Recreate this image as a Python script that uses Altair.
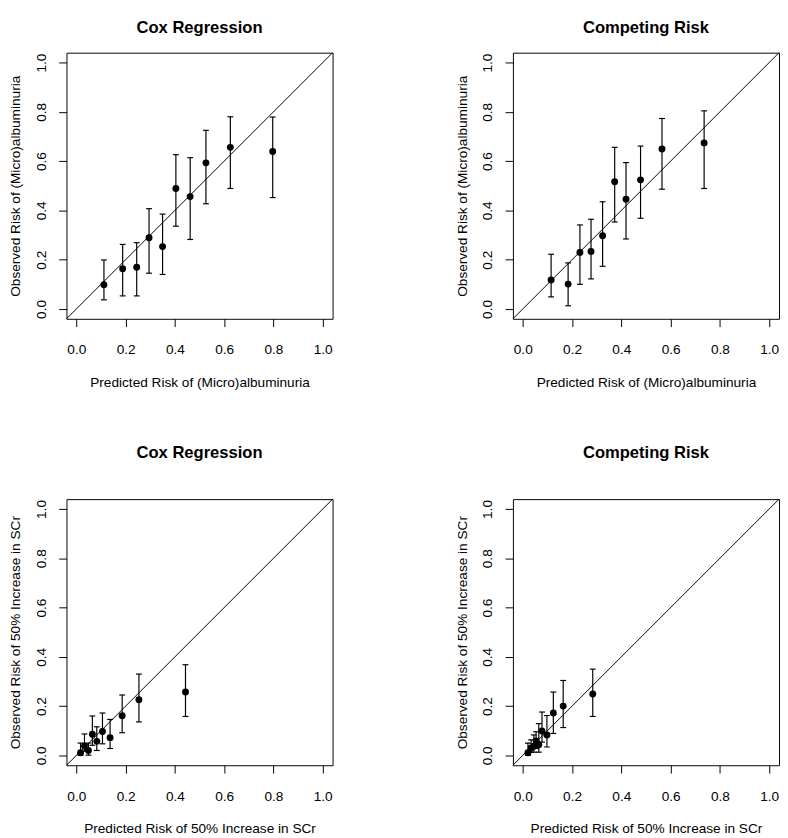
import altair as alt
import pandas as pd

FONT = "Liberation Sans"
DOMAIN = [-0.04, 1.04]
TICKS = [0.0, 0.2, 0.4, 0.6, 0.8, 1.0]

# Panel 1: Cox Regression, (Micro)albuminuria
p1_pred = [0.112, 0.188, 0.245, 0.295, 0.350, 0.404, 0.462, 0.526, 0.625, 0.797]
p1_obs = [0.098, 0.163, 0.169, 0.289, 0.253, 0.489, 0.456, 0.593, 0.656, 0.639]
p1_lo = [0.037, 0.053, 0.053, 0.145, 0.140, 0.336, 0.282, 0.427, 0.489, 0.452]
p1_hi = [0.199, 0.262, 0.269, 0.407, 0.385, 0.626, 0.614, 0.725, 0.780, 0.779]

# Panel 2: Competing Risk, (Micro)albuminuria
p2_pred = [0.115, 0.184, 0.232, 0.277, 0.324, 0.373, 0.419, 0.478, 0.565, 0.736]
p2_obs = [0.118, 0.101, 0.229, 0.233, 0.297, 0.516, 0.445, 0.524, 0.649, 0.674]
p2_lo = [0.049, 0.013, 0.100, 0.122, 0.173, 0.353, 0.284, 0.368, 0.486, 0.489]
p2_hi = [0.222, 0.187, 0.341, 0.364, 0.435, 0.656, 0.594, 0.661, 0.773, 0.804]

# Panel 3: Cox Regression, 50% Increase in SCr
p3_pred = [0.017, 0.033, 0.049, 0.065, 0.083, 0.106, 0.137, 0.186, 0.254, 0.443]
p3_obs = [0.011, 0.038, 0.020, 0.086, 0.057, 0.097, 0.072, 0.161, 0.226, 0.257]
p3_lo = [0.000, 0.017, 0.001, 0.041, 0.020, 0.047, 0.028, 0.092, 0.136, 0.158]
p3_hi = [0.050, 0.087, 0.050, 0.160, 0.116, 0.172, 0.146, 0.245, 0.330, 0.368]

# Panel 4: Competing Risk, 50% Increase in SCr
p4_pred = [0.021, 0.034, 0.045, 0.054, 0.065, 0.078, 0.098, 0.124, 0.164, 0.284]
p4_obs = [0.011, 0.030, 0.037, 0.059, 0.043, 0.099, 0.083, 0.172, 0.200, 0.249]
p4_lo = [0.000, 0.012, 0.013, 0.028, 0.013, 0.054, 0.034, 0.089, 0.113, 0.158]
p4_hi = [0.050, 0.063, 0.083, 0.096, 0.129, 0.176, 0.162, 0.257, 0.304, 0.350]

titles = ["Cox Regression", "Competing Risk", "Cox Regression", "Competing Risk"]
x_titles = ["Predicted Risk of (Micro)albuminuria", "Predicted Risk of (Micro)albuminuria",
            "Predicted Risk of 50% Increase in SCr", "Predicted Risk of 50% Increase in SCr"]
y_titles = ["Observed Risk of (Micro)albuminuria", "Observed Risk of (Micro)albuminuria",
            "Observed Risk of 50% Increase in SCr", "Observed Risk of 50% Increase in SCr"]

W = 273
H = 273


def panel(title, xt, yt, pred, obs, lo, hi, title_offset):
    df = pd.DataFrame({"pred": pred, "obs": obs, "lo": lo, "hi": hi})
    diag = pd.DataFrame({"a": [DOMAIN[0]], "b": [DOMAIN[1]]})
    xs = alt.Scale(domain=DOMAIN, nice=False, zero=False)
    ys = alt.Scale(domain=DOMAIN, nice=False, zero=False)
    xaxis = alt.Axis(values=TICKS, format=".1f", title=xt, labelPadding=17,
                     titlePadding=19)
    yaxis = alt.Axis(values=TICKS, format=".1f", title=yt, labelAngle=270,
                     labelAlign="center", labelBaseline="bottom", labelPadding=11,
                     titlePadding=12)

    def X(f):
        return alt.X(f, scale=xs, axis=xaxis)

    def Y(f):
        return alt.Y(f, scale=ys, axis=yaxis)

    line = alt.Chart(diag).mark_rule(color="black", strokeWidth=1).encode(
        x=X("a:Q"), y=Y("a:Q"), x2="b:Q", y2="b:Q")
    base = alt.Chart(df)
    bars = base.mark_rule(color="black", strokeWidth=1.2).encode(
        x=X("pred:Q"), y=Y("lo:Q"), y2="hi:Q")
    cap_lo = base.mark_tick(orient="horizontal", size=6, thickness=1.2,
                            color="black", opacity=1).encode(x=X("pred:Q"), y=Y("lo:Q"))
    cap_hi = base.mark_tick(orient="horizontal", size=6, thickness=1.2,
                            color="black", opacity=1).encode(x=X("pred:Q"), y=Y("hi:Q"))
    pts = base.mark_circle(size=50, color="black", opacity=1).encode(
        x=X("pred:Q"), y=Y("obs:Q"))
    return alt.layer(line, bars, cap_lo, cap_hi, pts).properties(
        width=W, height=H,
        title=alt.TitleParams(title, offset=title_offset, fontSize=17,
                              fontWeight="bold", font=FONT, color="black",
                              anchor="middle"))


c1 = panel(titles[0], x_titles[0], y_titles[0], p1_pred, p1_obs, p1_lo, p1_hi, 16)
c2 = panel(titles[1], x_titles[1], y_titles[1], p2_pred, p2_obs, p2_lo, p2_hi, 16)
c3 = panel(titles[2], x_titles[2], y_titles[2], p3_pred, p3_obs, p3_lo, p3_hi, 38)
c4 = panel(titles[3], x_titles[3], y_titles[3], p4_pred, p4_obs, p4_lo, p4_hi, 38)

chart = alt.concat(
    c1, c2, c3, c4, columns=2, align="each",
    spacing=alt.RowColnumber(row=55, column=124),
).properties(
    padding={"left": 0, "top": 0, "right": 0, "bottom": 0},
    background="white",
).configure_view(
    stroke="black", strokeWidth=1
).configure_axis(
    domain=False, grid=False, tickColor="black", tickSize=8, tickWidth=1,
    labelFont=FONT, labelFontSize=14, labelColor="black", labelFlush=False,
    titleFont=FONT, titleFontSize=14, titleFontWeight="normal", titleColor="black",
)

chart.save("out.html", embed_options={"renderer": "svg", "actions": False})
